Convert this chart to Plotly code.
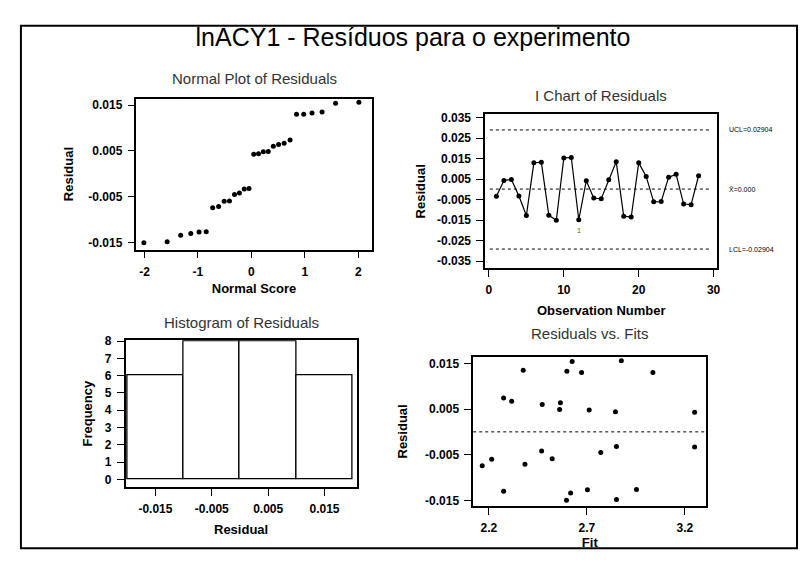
import plotly.graph_objects as go
from statistics import NormalDist

# ---------------- data ----------------
observation = list(range(1, 29))
residuals = [-0.0033, 0.0044, 0.0049, -0.0032, -0.0127, 0.0130, 0.0133, -0.0126, -0.0150, 0.0154,
             0.0156, -0.0148, 0.0043, -0.0042, -0.0045, 0.0048, 0.0135, -0.0130, -0.0134, 0.0130,
             0.0064, -0.0060, -0.0059, 0.0060, 0.0074, -0.0071, -0.0074, 0.0067]
fits = [3.250, 2.846, 2.561, 2.851, 2.703, 2.673, 2.598, 2.953, 2.596, 2.625,
        2.876, 2.851, 3.250, 2.469, 2.771, 2.712, 2.375, 2.275, 2.617, 3.037,
        2.565, 2.214, 2.523, 2.472, 2.275, 2.384, 2.166, 2.316]
ucl = 0.02904
lcl = -0.02904
flagged_obs = 12

res_ticks = [-0.015, -0.005, 0.005, 0.015]
res_ticktext = ["-0.015", "-0.005", "0.005", "0.015"]
ichart_ticks = [-0.035, -0.025, -0.015, -0.005, 0.005, 0.015, 0.025, 0.035]
ichart_ticktext = ["-0.035", "-0.025", "-0.015", "-0.005", "0.005", "0.015", "0.025", "0.035"]
score_ticks = [-2, -1, 0, 1, 2]
score_ticktext = ["-2", "-1", "0", "1", "2"]
obs_ticks = [0, 10, 20, 30]
freq_ticks = [0, 1, 2, 3, 4, 5, 6, 7, 8]
fit_ticks = [2.2, 2.7, 3.2]
fit_ticktext = ["2.2", "2.7", "3.2"]

title_text = "lnACY1 - Resíduos para o experimento"
sub_titles = ["Normal Plot of Residuals", "I Chart of Residuals",
              "Histogram of Residuals", "Residuals vs. Fits"]

# ---------------- derived (as Minitab does) ----------------
n = len(residuals)
sorted_res = sorted(residuals)
nd = NormalDist()
normal_scores = [nd.inv_cdf((i - 0.375) / (n + 0.25)) for i in range(1, n + 1)]
center = sum(residuals) / n

FONT = "Liberation Sans, Arial, sans-serif"
fig = go.Figure()

mk = dict(color="black", size=5)
fig.add_trace(go.Scatter(x=normal_scores, y=sorted_res, mode="markers", marker=mk,
                         xaxis="x", yaxis="y", showlegend=False))
fig.add_trace(go.Scatter(x=observation, y=residuals, mode="lines+markers", marker=mk,
                         line=dict(color="black", width=1.2),
                         xaxis="x2", yaxis="y2", showlegend=False))
fig.add_trace(go.Histogram(x=residuals, xbins=dict(start=-0.02, end=0.02, size=0.01),
                           marker=dict(color="white", line=dict(color="black", width=1.3)),
                           xaxis="x3", yaxis="y3", showlegend=False))
fig.add_trace(go.Scatter(x=fits, y=residuals, mode="markers", marker=mk,
                         xaxis="x4", yaxis="y4", showlegend=False))

dot = dict(color="black", width=1, dash="dot")
for val in (ucl, center, lcl):
    fig.add_shape(type="line", xref="x2 domain", yref="y2", x0=0.02, x1=0.97, y0=val, y1=val,
                  line=dot)
fig.add_shape(type="line", xref="x4 domain", yref="y4", x0=0, x1=1, y0=0, y1=0, line=dot)


def ax(**kw):
    d = dict(showline=True, mirror=True, linecolor="black", linewidth=1.5,
             ticks="outside", ticklen=7, tickwidth=1, tickcolor="black",
             showgrid=False, zeroline=False, ticklabelstandoff=3,
             tickfont=dict(family=FONT, size=12, color="black", weight="bold"))
    d.update(kw)
    return d


def ttl(t, standoff=6):
    return dict(text="<b>" + t + "</b>", standoff=standoff,
                font=dict(family=FONT, size=13, color="black"))


def px(a, b, W=806):
    return [a / W, b / W]


def py(top, bottom, H=567):
    return [1 - bottom / H, 1 - top / H]


fig.update_layout(
    width=806, height=567, margin=dict(l=0, r=0, t=0, b=0),
    paper_bgcolor="white", plot_bgcolor="white",
    font=dict(family=FONT, color="black"),
    title=dict(text=title_text, x=413 / 806, y=1 - 37 / 567, xanchor="center", yanchor="middle",
               font=dict(family=FONT, size=25, color="black")),
    xaxis=ax(domain=px(137, 373), anchor="y", range=[-2.15, 2.25],
             tickvals=score_ticks, ticktext=score_ticktext, title=ttl("Normal Score", 6)),
    yaxis=ax(domain=py(94, 247), anchor="x", range=[-0.0165, 0.0164],
             tickvals=res_ticks, ticktext=res_ticktext, title=ttl("Residual", 12)),
    xaxis2=ax(domain=px(487, 720), anchor="y2", range=[-0.5, 30.5], tickvals=obs_ticks,
              title=ttl("Observation Number", 10)),
    yaxis2=ax(domain=py(110, 266), anchor="x2", range=[-0.0384, 0.0366],
              tickvals=ichart_ticks, ticktext=ichart_ticktext, title=ttl("Residual", 8)),
    xaxis3=ax(domain=px(126, 358), anchor="y3", range=[-0.0203, 0.0207],
              tickvals=res_ticks, ticktext=res_ticktext, title=ttl("Residual", 10)),
    yaxis3=ax(domain=py(339, 488), anchor="x3", range=[-0.45, 8.05], tickvals=freq_ticks,
              title=ttl("Frequency", 9)),
    xaxis4=ax(domain=px(475, 709), anchor="y4", range=[2.12, 3.31],
              tickvals=fit_ticks, ticktext=fit_ticktext, title=ttl("Fit", 3)),
    yaxis4=ax(domain=py(356, 507), anchor="x4", range=[-0.0162, 0.0164],
              tickvals=res_ticks, ticktext=res_ticktext, title=ttl("Residual", 14)),
    bargap=0,
)

# subplot titles
shifts = [10, 8, 7, 13]
refs = [("x", "y"), ("x2", "y2"), ("x3", "y3"), ("x4", "y4")]
for (xr, yr), t, s in zip(refs, sub_titles, shifts):
    fig.add_annotation(text=t, xref=xr + " domain", yref=yr + " domain", x=0.5, y=1,
                       xanchor="center", yanchor="bottom", yshift=s, showarrow=False,
                       font=dict(family=FONT, size=15, color="#333333"))

# control limit labels
for val, lab in ((ucl, f"UCL={ucl:.5f}"), (center, f"X\u0304={abs(center):.3f}"),
                 (lcl, f"LCL={lcl:.5f}")):
    fig.add_annotation(text=lab, xref="x2 domain", yref="y2", x=1.04, y=val,
                       xanchor="left", yanchor="middle", showarrow=False,
                       font=dict(family=FONT, size=7, color="black"))

# test-failure mark
fig.add_annotation(text="1", xref="x2", yref="y2", x=flagged_obs,
                   y=residuals[flagged_obs - 1], yshift=-11, showarrow=False,
                   font=dict(family=FONT, size=7, color="#555555"))

# page frame
fig.add_shape(type="rect", xref="paper", yref="paper",
              x0=21 / 806, x1=800 / 806, y0=1 - 550 / 567, y1=1 - 20 / 567,
              line=dict(color="black", width=2))

fig.write_html("out.html", config={"displayModeBar": False},
               post_script="document.body.style.margin='0';")
